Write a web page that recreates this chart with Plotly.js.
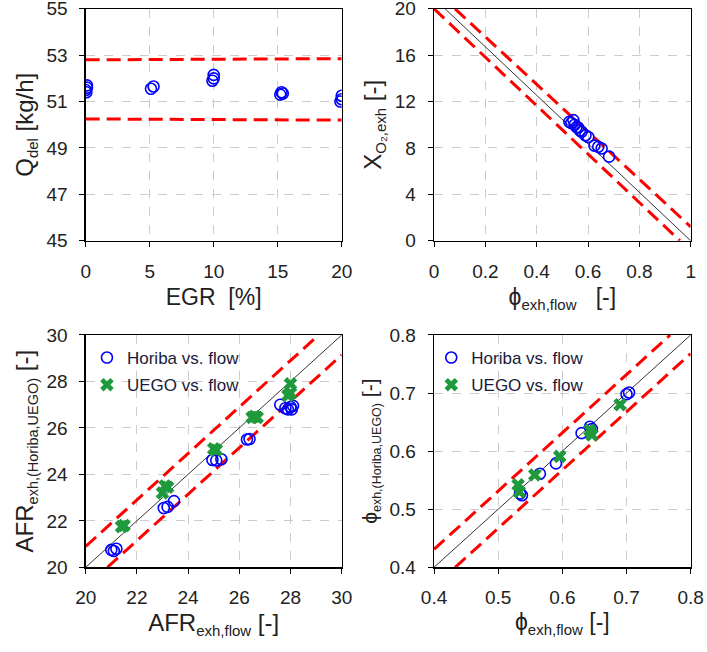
<!DOCTYPE html>
<html><head><meta charset="utf-8">
<script src="https://cdn.plot.ly/plotly-3.0.1.min.js"></script>
<style>html,body{margin:0;padding:0;background:#fff;}#chart{width:707px;height:652px;}</style>
</head><body><div id="chart"></div>
<script>
// Panel 1: Q_del vs EGR
const egr = [0, 0.1, 0.05, 0.1, 5.1, 5.3, 9.9, 10.0, 10.0, 15.2, 15.3, 15.4, 20.0, 19.9, 20.0];
const qdel = [51.5, 51.7, 51.4, 51.6, 51.55, 51.65, 51.9, 52.15, 52.0, 51.3, 51.4, 51.35, 51.25, 51.0, 51.1];
const qBandX = [0, 20];
const qUpper = [52.8, 52.85];
const qLower = [50.25, 50.2];

// Panel 2: X_O2 vs phi
const phiO2 = [0.527, 0.535, 0.543, 0.548, 0.555, 0.562, 0.569, 0.575, 0.59, 0.601, 0.625, 0.64, 0.653, 0.682];
const xo2 = [10.25, 10.15, 10.4, 10.0, 9.8, 9.75, 9.5, 9.4, 9.1, 8.95, 8.2, 8.1, 7.95, 7.25];
const o2LineX = [0.043, 1];
const o2LineY = [20, 0];
const o2UpX = [0.082, 1];
const o2UpY = [20, 1.2];
const o2LoX = [0, 0.958];
const o2LoY = [20, 0];

// Panel 3: AFR
const afrHoribaX = [21.0, 21.2, 21.1, 23.05, 23.2, 23.45, 24.95, 25.1, 25.3, 26.3, 26.4, 27.6, 27.8, 27.9, 28.0, 28.1, 28.05];
const afrHoribaY = [20.75, 20.8, 20.7, 22.55, 22.6, 22.85, 24.62, 24.6, 24.65, 25.5, 25.52, 27.0, 26.85, 26.8, 26.9, 26.95, 26.8];
const afrUegoX = [21.4, 21.5, 23.0, 23.1, 23.2, 25.0, 25.1, 26.5, 26.6, 26.7, 28.0, 27.9, 28.0];
const afrUegoY = [21.75, 21.8, 23.2, 23.5, 23.45, 25.1, 25.05, 26.45, 26.5, 26.45, 27.9, 27.4, 27.5];
const afrRange = [20, 30];
const afrUpX = [20, 29.1];
const afrUpY = [20.9, 30];
const afrLoX = [20.85, 30];
const afrLoY = [20, 29.14];

// Panel 4: phi
const phiHoribaX = [0.534, 0.537, 0.565, 0.59, 0.63, 0.643, 0.646, 0.704, 0.70];
const phiHoribaY = [0.527, 0.524, 0.561, 0.579, 0.631, 0.642, 0.638, 0.701, 0.698];
const phiUegoX = [0.531, 0.533, 0.557, 0.596, 0.643, 0.646, 0.69];
const phiUegoY = [0.542, 0.53, 0.559, 0.591, 0.636, 0.628, 0.68];
const phiRange = [0.4, 0.8];
const phiUpX = [0.4, 0.768];
const phiUpY = [0.431, 0.8];
const phiLoX = [0.433, 0.8];
const phiLoY = [0.4, 0.768];

const blue = '#0000ff', green = '#1e9a3c', red = '#ff0000';
const circ = {symbol: 'circle-open', size: 11, color: blue, line: {width: 1.6, color: blue}};
const cross = {symbol: 'x', size: 12, color: green, line: {width: 0}};
const dashL = {color: red, width: 3, dash: '14px,7px'};
const blackL = {color: '#000', width: 0.8};

const traces = [
  {x: qBandX, y: qUpper, mode: 'lines', line: dashL, xaxis: 'x', yaxis: 'y', showlegend: false},
  {x: qBandX, y: qLower, mode: 'lines', line: dashL, xaxis: 'x', yaxis: 'y', showlegend: false},
  {x: egr, y: qdel, mode: 'markers', marker: circ, xaxis: 'x', yaxis: 'y', showlegend: false},

  {x: o2LineX, y: o2LineY, mode: 'lines', line: blackL, xaxis: 'x2', yaxis: 'y2', showlegend: false},
  {x: o2UpX, y: o2UpY, mode: 'lines', line: dashL, xaxis: 'x2', yaxis: 'y2', showlegend: false},
  {x: o2LoX, y: o2LoY, mode: 'lines', line: dashL, xaxis: 'x2', yaxis: 'y2', showlegend: false},
  {x: phiO2, y: xo2, mode: 'markers', marker: circ, xaxis: 'x2', yaxis: 'y2', showlegend: false},

  {x: afrRange, y: afrRange, mode: 'lines', line: blackL, xaxis: 'x3', yaxis: 'y3', showlegend: false},
  {x: afrUpX, y: afrUpY, mode: 'lines', line: dashL, xaxis: 'x3', yaxis: 'y3', showlegend: false},
  {x: afrLoX, y: afrLoY, mode: 'lines', line: dashL, xaxis: 'x3', yaxis: 'y3', showlegend: false},
  {x: afrHoribaX, y: afrHoribaY, mode: 'markers', marker: circ, name: 'Horiba vs. flow', legendgroup: 'a', xaxis: 'x3', yaxis: 'y3', legend: 'legend'},
  {x: afrUegoX, y: afrUegoY, mode: 'markers', marker: cross, name: 'UEGO vs. flow', legendgroup: 'b', xaxis: 'x3', yaxis: 'y3', legend: 'legend'},

  {x: phiRange, y: phiRange, mode: 'lines', line: blackL, xaxis: 'x4', yaxis: 'y4', showlegend: false},
  {x: phiUpX, y: phiUpY, mode: 'lines', line: dashL, xaxis: 'x4', yaxis: 'y4', showlegend: false},
  {x: phiLoX, y: phiLoY, mode: 'lines', line: dashL, xaxis: 'x4', yaxis: 'y4', showlegend: false},
  {x: phiHoribaX, y: phiHoribaY, mode: 'markers', marker: circ, name: 'Horiba vs. flow', legendgroup: 'c', xaxis: 'x4', yaxis: 'y4', legend: 'legend2'},
  {x: phiUegoX, y: phiUegoY, mode: 'markers', marker: cross, name: 'UEGO vs. flow', legendgroup: 'd', xaxis: 'x4', yaxis: 'y4', legend: 'legend2'}
];

const fam = '"Liberation Sans", Arial, sans-serif';
function sub(s, size) { return '<sub><span style="font-size:' + size + 'px">' + s + '</span></sub>'; }
function ax(domain, range, dtick, anchor, title, tsize, standoff) {
  return {
    domain: domain, range: range, dtick: dtick, tick0: range[0], anchor: anchor,
    showline: true, linecolor: '#000', linewidth: 1.3, mirror: true,
    ticks: 'outside', ticklen: 5, tickcolor: '#000', tickwidth: 1,
    ticklabelstandoff: 8, ticklabeloverflow: 'allow',
    showgrid: true, gridcolor: '#cccccc', griddash: 'dash', gridwidth: 1,
    zeroline: false, tickfont: {family: fam, size: 19, color: '#222'},
    title: {text: title, font: {family: fam, size: tsize, color: '#222'}, standoff: standoff},
    fixedrange: true
  };
}
const xL = [0.1212, 0.4833], xR = [0.6139, 0.9769];
const yT = [0.6308, 0.9865], yB = [0.1299, 0.4862];

const layout = {
  width: 707, height: 652,
  margin: {l: 0, r: 0, t: 0, b: 0},
  paper_bgcolor: '#fff', plot_bgcolor: '#fff',
  font: {family: fam, color: '#222'},
  xaxis: ax(xL, [0, 20], 5, 'y', 'EGR&nbsp; [%]', 23, 8),
  yaxis: ax(yT, [45, 55], 2, 'x', 'Q' + sub('del', 15) + ' [kg/h]', 24, 6),
  xaxis2: ax(xR, [0, 1], 0.2, 'y2', 'ϕ' + sub('exh,flow', 15) + '&nbsp;&nbsp; [-]', 23, 8),
  yaxis2: ax(yT, [0, 20], 4, 'x2', 'X' + sub('O₂,exh', 15) + ' [-]', 24, 6),
  xaxis3: ax(xL, [20, 30], 2, 'y3', 'AFR' + sub('exh,flow', 15) + ' [-]', 24, 6),
  yaxis3: ax(yB, [20, 30], 2, 'x3', 'AFR' + sub('exh,(Horiba,UEGO)', 14.5) + ' [-]', 24, 6),
  xaxis4: ax(xR, [0.4, 0.8], 0.1, 'y4', 'ϕ' + sub('exh,flow', 15) + ' [-]', 23, 6),
  yaxis4: ax(yB, [0.4, 0.8], 0.1, 'x4', 'ϕ' + sub('exh,(Horiba,UEGO)', 12.5) + ' [-]', 21, 6),
  legend: {x: 0.123, y: 0.4785, xanchor: 'left', yanchor: 'top', bgcolor: 'rgba(0,0,0,0)',
           font: {family: fam, size: 17, color: '#1a1a3a'}, tracegroupgap: 2, itemwidth: 30},
  legend2: {x: 0.61, y: 0.4785, xanchor: 'left', yanchor: 'top', bgcolor: 'rgba(0,0,0,0)',
           font: {family: fam, size: 17, color: '#1a1a3a'}, tracegroupgap: 2, itemwidth: 30}
};

Plotly.newPlot('chart', traces, layout, {displayModeBar: false, staticPlot: true});
</script>
</body></html>
